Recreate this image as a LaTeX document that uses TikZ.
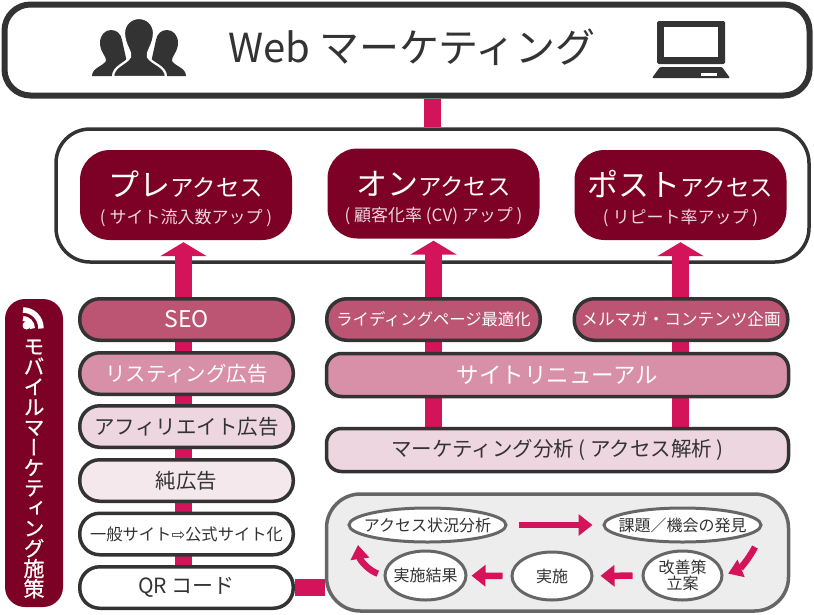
\documentclass[tikz,border=0pt]{standalone}
\usepackage{fontspec}
\setmainfont{Noto Sans CJK JP}
\newfontfamily\vertfont[RawFeature=+vert,FakeBold=0.7]{Noto Sans CJK JP}
\newfontfamily\symbfont{DejaVu Sans}
\usetikzlibrary{arrows.meta,backgrounds,shapes.geometric}
\definecolor{inkgray}{HTML}{333333}
\definecolor{winered}{HTML}{7D0026}
\definecolor{hotpink}{HTML}{D4145A}
\definecolor{rosedark}{HTML}{BC5474}
\definecolor{rosemid}{HTML}{D88FA8}
\definecolor{roselight}{HTML}{EED6E0}
\definecolor{rosepale}{HTML}{F4E8ED}
\newcommand{\fsize}[1]{\fontsize{#1}{#1}\selectfont}
\newcommand{\accesslabel}[2]{\rule{0pt}{33pt}{\fsize{31}#1}{\fsize{23.5}アクセス}\\[10pt]{\fsize{17}\color{roselight}#2}}
\tikzset{
  pill/.style={draw=inkgray,line width=3.5pt,rounded corners=20pt,inner sep=0pt,
    minimum width=213.5pt,minimum height=41.5pt,text=inkgray,font=\fsize{20.5}},
  accessbox/.style={fill=winered,rounded corners=30pt,inner sep=0pt,align=center,
    minimum width=212pt,minimum height=90pt,text=white},
  loopnode/.style={draw=black!60,line width=3pt,ellipse,fill=white,inner xsep=-20pt,inner ysep=-5pt,
    text=inkgray,align=center,font=\fsize{16}},
  stem/.style={draw=hotpink,line width=16.5pt},
  bigarrow/.style={stem,-{Triangle[length=14pt,width=46pt]},shorten >=2pt},
  looparrow/.style={draw=hotpink,line width=6.5pt,
    -{Triangle[length=14pt,width=21pt]}},
}
\begin{document}
\begin{tikzpicture}[x=1pt,y=-1pt]
  \useasboundingbox (0,0) rectangle (814,614);

  % 一番上の枠
  \node[draw=inkgray,line width=6pt,rounded corners=26pt,minimum width=805pt,minimum height=91pt,fill=white] (web) at (407,50) {};
  \node[text=inkgray,font=\fsize{40}] (webtitle) at (412,47) {Web マーケティング};

  % 人のアイコン
  \fill[inkgray] (92,76) .. controls (92,68) and (103,66) .. (106,61) .. controls (107,57) and (100,52) .. (100,43) .. controls (100,35) and (105,30) .. (111,30) .. controls (117,30) and (121,34) .. (122,40) -- (130,76) -- cycle;
  \fill[inkgray] (186,76) .. controls (186,68) and (175,66) .. (172,61) .. controls (171,57) and (178,52) .. (178,43) .. controls (178,35) and (173,30) .. (167,30) .. controls (161,30) and (157,34) .. (156,40) -- (148,76) -- cycle;
  \filldraw[fill=inkgray,draw=white,line width=2.2pt] (113,77) .. controls (113,66) and (126,64) .. (130,57) .. controls (132,52) and (124,45) .. (124,33) .. controls (124,24) and (131,18) .. (139,18) .. controls (147,18) and (154,24) .. (154,33) .. controls (154,45) and (146,52) .. (148,57) .. controls (152,64) and (166,66) .. (166,77) -- cycle;

  % PCのアイコン
  \fill[inkgray,rounded corners=1.5pt] (657,21) rectangle (725,64);
  \fill[white] (664,27) rectangle (718,57);
  \fill[inkgray,rounded corners=1pt] (660,67) -- (722,67) -- (730,78) -- (652,78) -- cycle;
  \fill[white] (701,73) rectangle (717,75.5);

  % アクセスの枠
  \begin{scope}[on background layer]
    \node[draw=inkgray,line width=3.5pt,rounded corners=34pt,minimum width=753pt,minimum height=133pt,fill=white] (frame) at (432.5,195.5) {};
  \end{scope}
  \node[accessbox] (pre) at (186,195) {\accesslabel{プレ}{( サイト流入数アップ )}};
  \node[accessbox] (on) at (433.5,193.5) {\accesslabel{オン}{( 顧客化率 (CV) アップ )}};
  \node[accessbox] (post) at (680.5,195) {\accesslabel{ポスト}{( リピート率アップ )}};

  % モバイルの帯
  \node[fill=winered,rounded corners=20pt,minimum width=58pt,minimum height=308pt,inner sep=0pt] (side) at (34,453) {};
  \fill[white] (26.5,325.5) circle (4);
  \draw[white,line width=5pt] (23,318.5) .. controls (28,318.5) and (32.5,323) .. (32.5,328.5);
  \draw[white,line width=5.5pt] (23,310) .. controls (33,310) and (41,318) .. (41,328.5);
  \node[text=white,align=center,font=\vertfont\fontsize{21}{20.2}\selectfont,inner sep=0pt] (sidelabel) at (34,469)
    {モ\\バ\\イ\\ル\\マ\\ー\\ケ\\テ\\ィ\\ン\\グ\\施\\策};

  % 左の列
  \node[pill,fill=rosedark,text=white,font=\fsize{23}] (seo) at (186.5,319.5) {SEO};
  \node[pill,fill=rosemid,text=white] (listing) at (186.5,373.5) {リスティング広告};
  \node[pill,fill=roselight] (affiliate) at (186.5,426.5) {アフィリエイト広告};
  \node[pill,fill=rosepale] (junad) at (186.5,480.5) {純広告};
  \node[pill,fill=white,font=\fsize{16.3}] (koushiki) at (186.5,534) {一般サイト{\symbfont ⇨}公式サイト化};
  \node[pill,fill=white,font=\fsize{21}] (qr) at (186.5,587.5) {QR コード};

  % 右の列
  \node[pill,fill=rosedark,text=white,font=\fsize{16.3}] (lp) at (433.5,319.5) {ライディングページ最適化};
  \node[pill,fill=rosedark,text=white,font=\fsize{16.6}] (mail) at (681,319.5) {メルマガ・コンテンツ企画};
  \node[pill,fill=rosemid,text=white,rounded corners=15pt,minimum width=462pt,minimum height=43pt,font=\fsize{22.5}] (renewal) at (557.5,375) {サイトリニューアル};
  \node[pill,fill=roselight,rounded corners=15pt,minimum width=462pt,minimum height=43pt] (analysis) at (557.5,450) {マーケティング分析 ( アクセス解析 )};

  % 改善のループ
  \node[draw=black!60,line width=3.5pt,rounded corners=34pt,minimum width=462pt,minimum height=117pt,fill=black!7] (loop) at (557.5,552.5) {};
  \node[loopnode,minimum width=157pt,minimum height=34pt] (status) at (427.5,525) {アクセス状況分析};
  \node[loopnode,minimum width=157pt,minimum height=34pt] (issue) at (682.5,525) {課題／機会の発見};
  \node[loopnode,minimum width=79pt,minimum height=49pt] (kaizen) at (682.5,575.5) {\fontsize{16}{19}\selectfont 改善策\\立案};
  \node[loopnode,minimum width=80pt,minimum height=48pt] (jisshi) at (552,576) {実施};
  \node[loopnode,minimum width=81pt,minimum height=49pt] (kekka) at (425.5,575.5) {実施結果};
  \coordinate (issuefoot) at (755,547);
  \coordinate (statusfoot) at (358,545);

  \draw[looparrow,shorten <=11pt,shorten >=10pt] (status) -- (issue);
  \draw[looparrow,shorten >=5pt,-{Triangle[length=14pt,width=18pt]}] (issuefoot) to[bend left=20] (kaizen.east);
  \draw[looparrow,shorten <=9pt,shorten >=7pt] (kaizen) -- (jisshi);
  \draw[looparrow,shorten <=8pt,shorten >=4pt] (jisshi) -- (kekka);
  \draw[looparrow,shorten <=6pt,-{Triangle[length=14pt,width=18pt]}] (kekka.west) to[bend left=32] (statusfoot);

  % 太い矢印
  \begin{scope}[on background layer]
    \coordinate (preroot) at (183.5,565);
    \draw[stem] (web.south -| frame.north) -- (frame.north);
    \draw[bigarrow] (preroot) -- (preroot |- pre.south);
    \draw[bigarrow] (analysis.north -| on.south) -- (on.south);
    \draw[bigarrow] (analysis.north -| post.south) -- (post.south);
    \draw[stem] (qr.east) -- (qr.east -| loop.west);
  \end{scope}
\end{tikzpicture}
\end{document}
